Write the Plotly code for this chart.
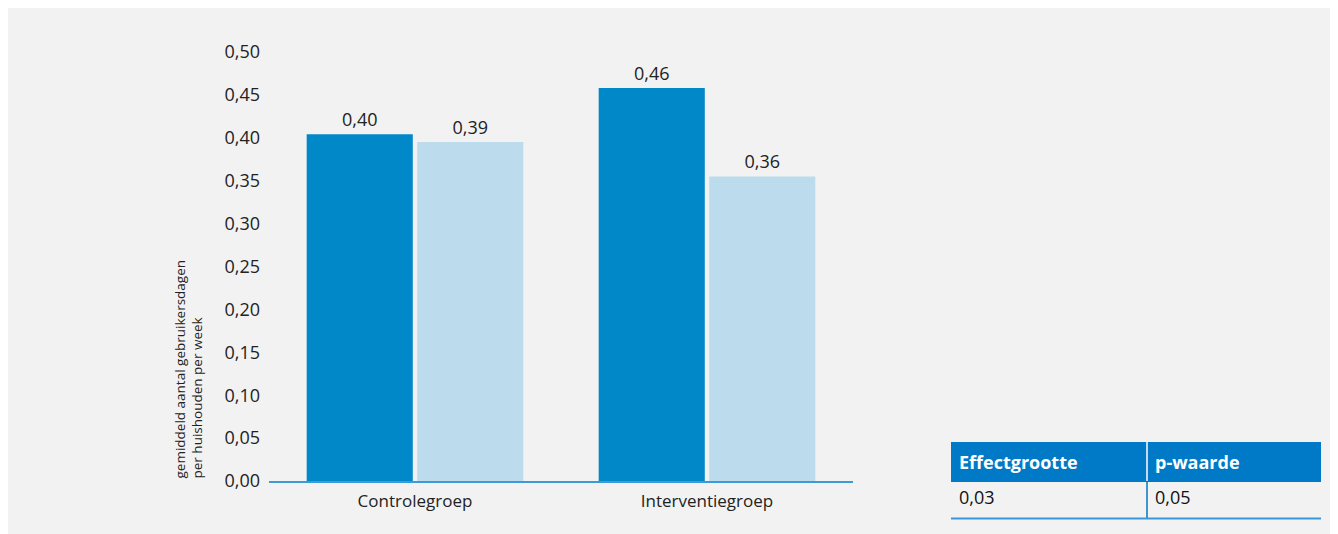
import plotly.graph_objects as go

groepen = ['Controlegroep', 'Interventiegroep']
meting1 = [0.404, 0.458]
meting2 = [0.395, 0.355]
labels1 = ['0,40', '0,46']
labels2 = ['0,39', '0,36']

tabel_kop = ['<b>Effectgrootte</b>', '<b>p-waarde</b>']
tabel_waarden = [['0,03'], ['0,05']]

# pagina heeft 8px marge rondom de figuur
OFF = 8
W, H = 1338 - OFF, 534 - OFF
font = 'Open Sans'


def px_x(p):
    return (p - OFF) / W


def px_y(p):
    return (H - (p - OFF)) / H


fig = go.Figure()
fig.add_trace(go.Bar(x=groepen, y=meting1, text=labels1, textposition='outside',
                     marker_color='#0088c9', marker_line_width=0, cliponaxis=False,
                     textfont=dict(size=18, color='#222222')))
fig.add_trace(go.Bar(x=groepen, y=meting2, text=labels2, textposition='outside',
                     marker_color='#bcdcee', marker_line_width=0, cliponaxis=False,
                     textfont=dict(size=18, color='#222222')))

fig.add_trace(go.Table(
    domain=dict(x=[px_x(951), px_x(1321)], y=[px_y(519), px_y(442)]),
    columnwidth=[196, 174],
    header=dict(values=tabel_kop, fill_color='#007ac6', align='left', height=39,
                font=dict(family=font, size=18, color='white'), line=dict(width=0)),
    cells=dict(values=tabel_waarden, fill_color='#f2f2f2', align='left', height=38,
               font=dict(family=font, size=18, color='#111111'), line=dict(width=0)),
))

# achtergrond + tabellijnen
fig.add_shape(type='rect', xref='paper', yref='paper', x0=0, x1=1, y0=0, y1=1,
              fillcolor='#f2f2f2', line_width=0, layer='below')
fig.add_shape(type='line', xref='paper', yref='paper', x0=px_x(1147), x1=px_x(1147),
              y0=px_y(442), y1=px_y(481), line=dict(color='white', width=1.5))
fig.add_shape(type='line', xref='paper', yref='paper', x0=px_x(1147), x1=px_x(1147),
              y0=px_y(481), y1=px_y(518), line=dict(color='#0079c2', width=1.5))
fig.add_shape(type='line', xref='paper', yref='paper', x0=px_x(951), x1=px_x(1321),
              y0=px_y(518.5), y1=px_y(518.5), line=dict(color='#3b98d8', width=2))

fig.add_annotation(text='gemiddeld aantal gebruikersdagen<br>per huishouden per week',
                   xref='paper', yref='paper', x=px_x(188), y=px_y(481),
                   xanchor='center', yanchor='bottom', textangle=-90, showarrow=False,
                   align='left', font=dict(family=font, size=13.5, color='#222222'))

fig.update_layout(
    width=W, height=H,
    margin=dict(l=0, r=0, t=0, b=0),
    paper_bgcolor='#f2f2f2', plot_bgcolor='#f2f2f2',
    font=dict(family=font, size=17, color='#222222'),
    separators=',.',
    barmode='group', bargap=0.243, bargroupgap=0.04,
    showlegend=False,
    xaxis=dict(domain=[px_x(269), px_x(853)], range=[-0.5, 1.5], showline=True,
               linecolor='#3b9ad8', linewidth=1.5, ticks='', automargin=False,
               ticklabelstandoff=4, tickfont=dict(size=17, color='#222222')),
    yaxis=dict(domain=[px_y(481), px_y(52)], range=[0, 0.5], dtick=0.05,
               tickformat='.2f', showgrid=False, zeroline=False, automargin=False,
               ticklabelstandoff=8, tickfont=dict(size=18, color='#222222')),
)

fig.write_html('out.html')
